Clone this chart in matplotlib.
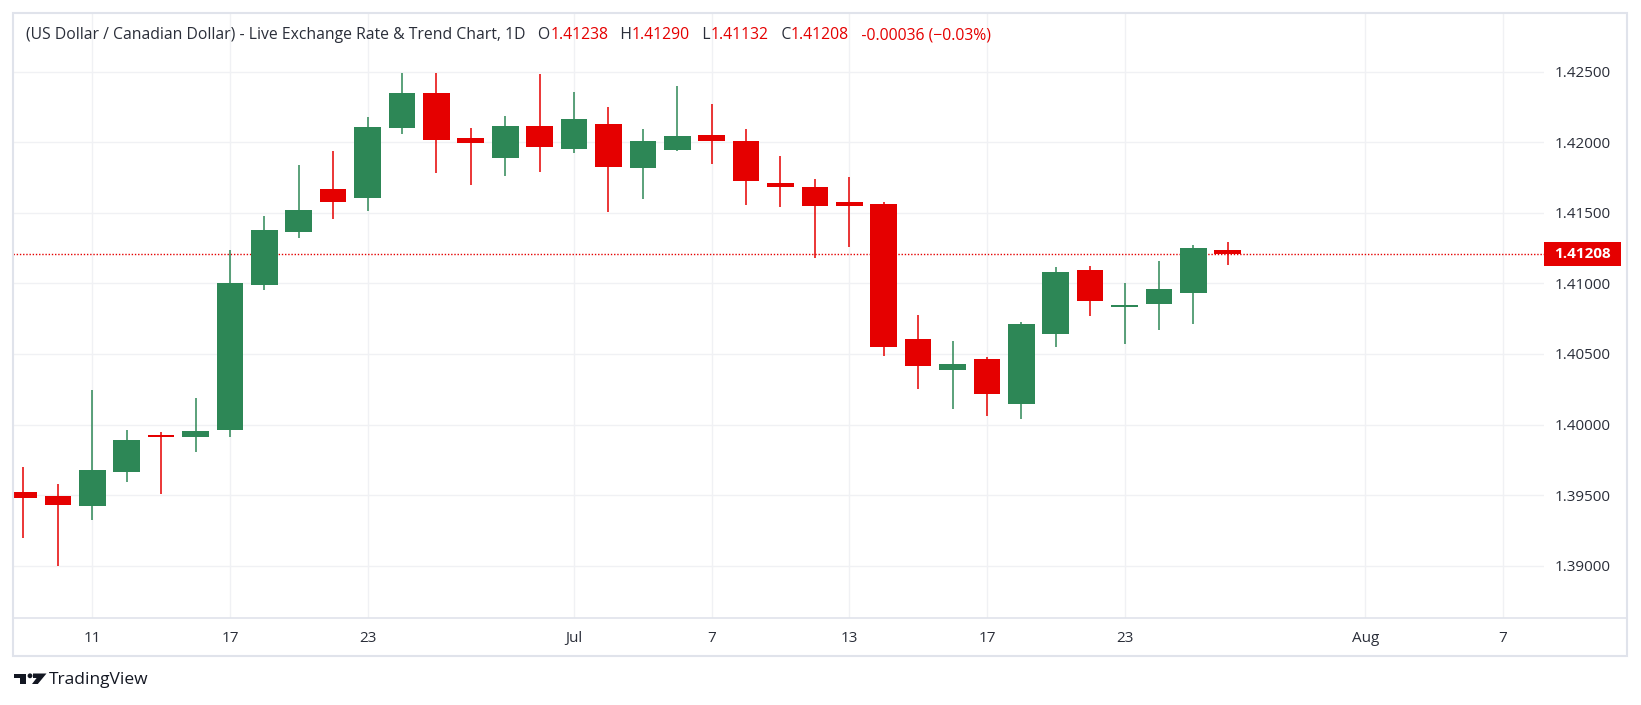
import matplotlib.pyplot as plt
import matplotlib.transforms as mtransforms
from matplotlib.patches import Rectangle, Circle, Polygon

# daily USD/CAD candles, oldest first
opens = [1.39519, 1.39491, 1.39422, 1.39663, 1.39923, 1.39911, 1.39961, 1.40988, 1.41364,
         1.41666, 1.41605, 1.42098, 1.42346, 1.42028, 1.41886, 1.42113, 1.41952, 1.42127,
         1.41817, 1.41945, 1.42049, 1.42006, 1.41709, 1.41680, 1.41574, 1.41560, 1.40603,
         1.40386, 1.40462, 1.40145, 1.40641, 1.41092, 1.40835, 1.40854, 1.40932, 1.41238]
highs = [1.39696, 1.39576, 1.40242, 1.39958, 1.39944, 1.40185, 1.41234, 1.41475, 1.41836,
         1.41935, 1.42176, 1.42488, 1.42488, 1.42098, 1.42184, 1.42481, 1.42354, 1.42247,
         1.42091, 1.42396, 1.42269, 1.42091, 1.41900, 1.41737, 1.41751, 1.41574, 1.40773,
         1.40589, 1.40476, 1.40724, 1.41114, 1.41121, 1.41000, 1.41156, 1.41269, 1.41290]
lows = [1.39193, 1.38997, 1.39321, 1.39590, 1.39507, 1.39805, 1.39911, 1.40953, 1.41321,
        1.41454, 1.41510, 1.42056, 1.41780, 1.41695, 1.41758, 1.41787, 1.41921, 1.41506,
        1.41598, 1.41940, 1.41843, 1.41555, 1.41541, 1.41180, 1.41258, 1.40485, 1.40251,
        1.40110, 1.40060, 1.40039, 1.40549, 1.40769, 1.40570, 1.40669, 1.40712, 1.41132]
closes = [1.39477, 1.39429, 1.39675, 1.39888, 1.39909, 1.39951, 1.41000, 1.41376, 1.41517,
          1.41576, 1.42106, 1.42346, 1.42016, 1.41992, 1.42113, 1.41964, 1.42162, 1.41825,
          1.42006, 1.42042, 1.42009, 1.41725, 1.41683, 1.41548, 1.41548, 1.40549, 1.40414,
          1.40426, 1.40216, 1.40710, 1.41078, 1.40875, 1.40845, 1.40958, 1.41248, 1.41208]

date_tick_pos = [2, 6, 10, 16, 20, 24, 28, 32, 39, 43]
date_tick_labels = ['11', '17', '23', 'Jul', '7', '13', '17', '23', 'Aug', '7']
price_ticks = [1.390, 1.395, 1.400, 1.405, 1.410, 1.415, 1.420, 1.425]

title_parts = [
    ('(US Dollar / Canadian Dollar) - Live Exchange Rate & Trend Chart, 1D   O', 'dark'),
    ('1.41238', 'red'), ('   H', 'dark'), ('1.41290', 'red'), ('   L', 'dark'),
    ('1.41132', 'red'), ('   C', 'dark'), ('1.41208', 'red'),
    ('   -0.00036 (\u22120.03%)', 'red'),
]

UP = '#2d8756'
DOWN = '#e50000'
TEXT = '#2a2e39'
GRID = '#f0f1f4'
BORDER = '#e0e3eb'
FONT = 'Open Sans'

W, H = 1641, 705
fig = plt.figure(figsize=(W / 100, H / 100), dpi=100)
fig.patch.set_facecolor('white')
# pixel coords measured from the top-left corner
pix = mtransforms.Affine2D().scale(1 / W, -1 / H).translate(0, 1) + fig.transFigure

left, right, top, bottom = 13.3, 1544, 13.3, 617.5
ax = fig.add_axes([left / W, 1 - bottom / H, (right - left) / W, (bottom - top) / H])

n = len(opens)
xs = list(range(n))
colors = [UP if c >= o else DOWN for o, c in zip(opens, closes)]
ax.vlines(xs, lows, highs, colors=colors, linewidth=1.1, zorder=3)
ax.bar(xs, [abs(c - o) for o, c in zip(opens, closes)], width=0.775,
       bottom=[min(o, c) for o, c in zip(opens, closes)], color=colors,
       linewidth=0, zorder=4)

last = closes[-1]
ax.axhline(last, color=DOWN, linewidth=1, linestyle=(0, (1, 1.3)), zorder=2)

ax.set_xlim(-0.296, 44.19)
ax.set_ylim(1.386326, 1.429138)

ax.set_xticks(date_tick_pos)
ax.set_xticklabels(date_tick_labels)
ax.set_yticks(price_ticks)
ax.set_yticklabels([f'{p:.5f}' for p in price_ticks])
ax.yaxis.tick_right()
ax.tick_params(axis='y', length=0, pad=8, labelsize=11, labelcolor=TEXT)
ax.tick_params(axis='x', length=0, pad=10, labelsize=11, labelcolor=TEXT)
for lab in ax.get_xticklabels() + ax.get_yticklabels():
    lab.set_fontfamily(FONT)
ax.grid(True, color=GRID, linewidth=1)
ax.set_axisbelow(True)
for s in ax.spines.values():
    s.set_visible(False)

# last price marker on the price scale
box_h = 24.4 / ((bottom - top) / (ax.get_ylim()[1] - ax.get_ylim()[0]))
box_w = 77 / (right - left)
bt = mtransforms.blended_transform_factory(ax.transAxes, ax.transData)
ax.add_patch(Rectangle((1.0, last - box_h / 2), box_w, box_h, transform=bt,
                       facecolor=DOWN, edgecolor='none', clip_on=False, zorder=5))
ax.text(1.0 + box_w / 2, last, f'{last:.5f}', transform=bt, ha='center', va='center',
        color='white', fontsize=11, fontweight='bold', family=FONT, zorder=6)

# chart frame and time axis separator
fig.add_artist(Rectangle((13.3, 13.3), 1626.7 - 13.3, 656 - 13.3, transform=pix,
                         facecolor='none', edgecolor=BORDER, linewidth=1.5))
fig.add_artist(plt.Line2D([13.3, 1626.7], [617.5, 617.5], transform=pix,
                          color=BORDER, linewidth=1.2))

# legend line at the top
renderer = fig.canvas.get_renderer()
x = 26
for txt, kind in title_parts:
    t = fig.text(x, 35, txt, transform=pix, va='center', ha='left', fontsize=11.3,
                 family=FONT, color=DOWN if kind == 'red' else TEXT)
    bb = t.get_window_extent(renderer)
    x = bb.x1  # figure pixels == top-left pixels horizontally

# TradingView logo
logo_c = '#131722'
fig.add_artist(Rectangle((13.5, 673.5), 12, 4.5, transform=pix, color=logo_c, lw=0))
fig.add_artist(Rectangle((20, 673.5), 5.5, 10.5, transform=pix, color=logo_c, lw=0))
fig.add_artist(Circle((30, 675.8), 2.4, transform=pix, color=logo_c, lw=0))
fig.add_artist(Polygon([(33, 673.5), (46.5, 673.5), (37.8, 684), (32, 684),
                        (36.6, 678), (33, 678)], closed=True, transform=pix,
                       color=logo_c, lw=0))
fig.text(49, 679.5, 'TradingView', transform=pix, va='center', ha='left',
         fontsize=12.5, family=FONT, color=logo_c)

fig.savefig('out.png', dpi=100, facecolor='white')
